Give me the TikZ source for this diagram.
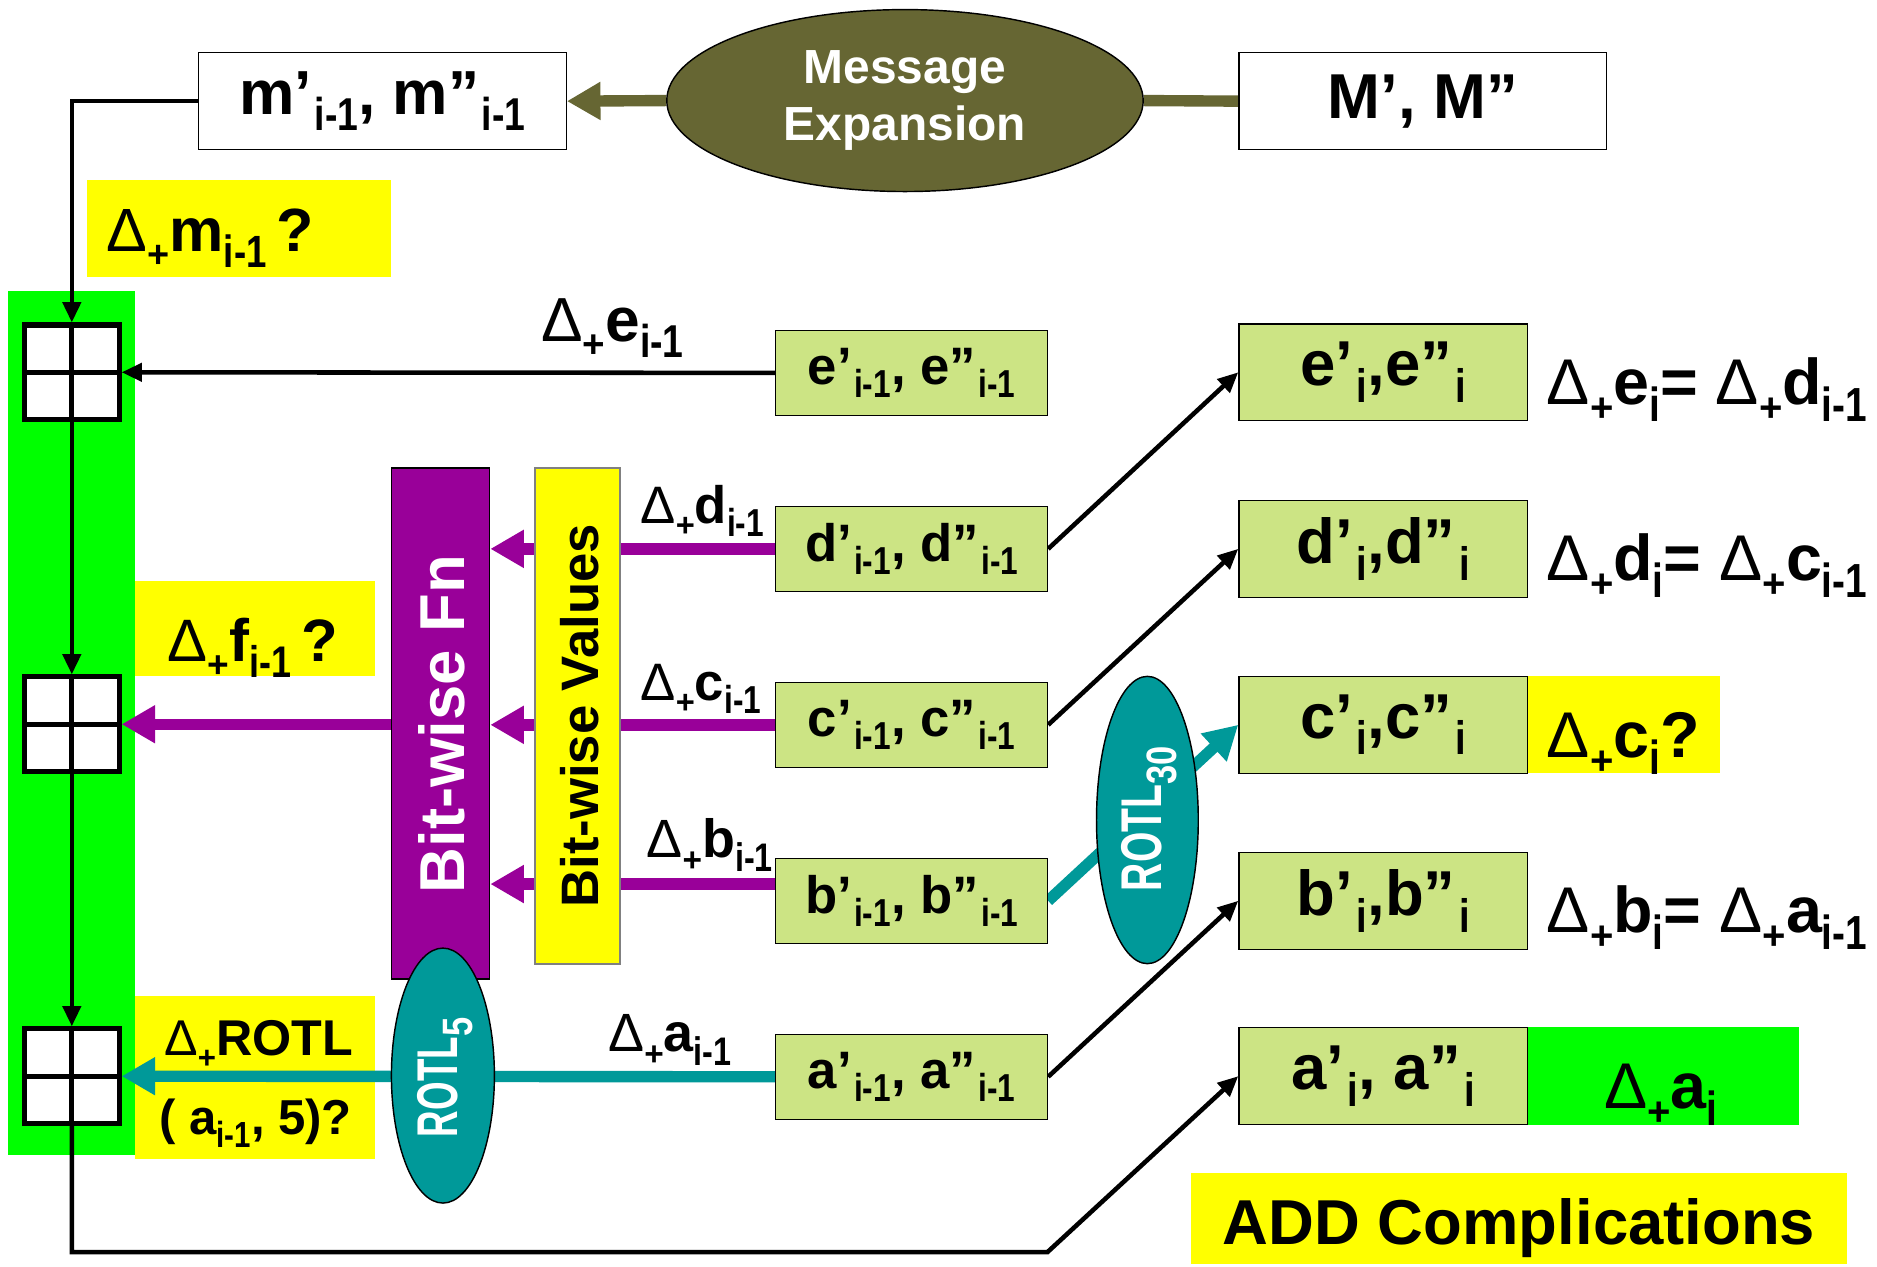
\documentclass[tikz,border=0pt]{standalone}
\usepackage{fontspec}
\setmainfont{Liberation Sans}
\usepackage{graphicx}
\usetikzlibrary{arrows.meta,shapes.geometric}
\pgfdeclarelayer{bg}
\pgfdeclarelayer{lines}
\pgfsetlayers{bg,lines,main}
\definecolor{olv}{RGB}{102,102,51}
\definecolor{grn}{RGB}{0,255,0}
\definecolor{lgr}{RGB}{204,228,132}
\definecolor{ylw}{RGB}{255,255,0}
\definecolor{prp}{RGB}{153,0,153}
\definecolor{tel}{RGB}{0,153,153}
\newcommand\sbx[1]{\raisebox{-0.26em}{\scalebox{0.6}[0.74]{#1}}}
\newcommand\dpl{{\mdseries Δ}\raisebox{-0.26em}{\scalebox{0.62}{+}}}
\newcommand\fsz[1]{\fontsize{#1}{#1}\selectfont\bfseries}
\tikzset{
  boxb/.style={draw, line width=1.2pt, rectangle, inner sep=0pt},
  lbox/.style={boxb, fill=lgr, minimum width=227pt, minimum height=71pt},
  rbox/.style={boxb, fill=lgr, minimum width=241pt, minimum height=81pt},
  wbox/.style={boxb, fill=white, minimum width=307pt, minimum height=81pt},
  ybg/.style={fill=ylw, inner sep=0pt, rectangle},
  adder/.style={rectangle, draw, line width=4.2pt, fill=white, minimum size=79pt, inner sep=0pt,
    path picture={\draw[line width=4.2pt] (path picture bounding box.north) -- (path picture bounding box.south)
      (path picture bounding box.west) -- (path picture bounding box.east);}},
  blk/.style={draw=black, line width=3.8pt},
  blkarr/.style={blk, -{Triangle[length=17pt,width=15pt]}},
  fatln/.style={line width=9.5pt},
  fatarr/.style={fatln, -{Triangle[length=28pt,width=30pt]}},
  lbl/.style={inner sep=0pt},
  bw/.style={inner sep=0pt, anchor=base west},
}
\begin{document}
\begin{tikzpicture}[x=1pt,y=-1pt]
\useasboundingbox (0,0) rectangle (1568,1058);
\begin{pgfonlayer}{bg}
\fill[white] (0,0) rectangle (1568,1058);
\node[ybg, fill=grn, minimum width=106pt, minimum height=722pt] (strip) at (60,604) {};
\node[ybg, minimum width=254pt, minimum height=81pt] (ym) at (200,190.5) {};
\node[ybg, minimum width=200pt, minimum height=80pt] (yf) at (213,525) {};
\node[ybg, minimum width=200pt, minimum height=136pt] (yrot) at (213,900) {};
\node[ybg, minimum width=161pt, minimum height=81pt] (yc) at (1356.5,605.5) {};
\node[ybg, fill=grn, minimum width=227pt, minimum height=82pt] (ga) at (1389.5,899) {};
\node[ybg, minimum width=548pt, minimum height=76pt] (add) at (1269,1018) {};
\end{pgfonlayer}

% texts of the coloured labels
\node[bw] (tm) at (89,210) {\fsz{51}\dpl m\sbx{i-1}\,?};
\node[bw] (tf) at (140,553) {\fsz{50}\dpl f\sbx{i-1}\,?};
\node[bw] (trot1) at (137,882) {\fsz{42}\dpl ROTL};
\node[bw] (trot2) at (133,948) {\fsz{41}( a\sbx{i-1}, 5)?};
\node[bw] (tc) at (1292,633) {\fsz{54}\dpl c\sbx{i}?};
\node[bw] (ta) at (1340,926) {\fsz{54}\dpl a\sbx{i}};
\node[lbl, anchor=base] (tadd) at (1269,1040) {\fsz{53}ADD Complications};

% top row
\node[wbox] (mb) at (319.5,84.5) {\raisebox{-4pt}{\fsz{52}m’\kern2pt\sbx{i-1}, m”\kern2pt\sbx{i-1}}};
\node[ellipse, draw, line width=1.2pt, fill=olv, minimum width=398pt, minimum height=152pt, inner sep=0pt,
  text=white, align=center, font={\fontsize{40}{47.5}\selectfont\bfseries}] (me) at (756,84) {\raisebox{-4pt}{Message}\\\raisebox{-4pt}{Expansion}};
\node[wbox] (Mb) at (1188.5,84.5) {\raisebox{-2pt}{\fsz{53}M’, M”}};

% bit-wise blocks
\node[boxb, fill=prp, minimum width=82pt, minimum height=427pt] (fn) at (368,604.5) {};
\node[lbl, rotate=90, text=white] (fntxt) at (369,605) {\fsz{53}Bit-wise Fn};
\node[boxb, draw=gray, line width=1.5pt, fill=ylw, minimum width=71pt, minimum height=414pt] (vals) at (482.5,598) {};
\node[lbl, rotate=90] (valtxt) at (484,598) {\fsz{44}Bit-wise Values};

% rotation ellipses
\node[ellipse, draw, line width=1.2pt, fill=tel, minimum width=86pt, minimum height=213pt, inner sep=0pt] (r5) at (370,898.5) {};
\node[lbl, rotate=90, text=white] (r5t) at (372,900) {\fsz{48}\scalebox{0.64}[1]{ROTL}\sbx{5}};
\node[ellipse, draw, line width=1.2pt, fill=tel, minimum width=85pt, minimum height=240pt, inner sep=0pt] (r30) at (958.5,685) {};
\node[lbl, rotate=90, text=white] (r30t) at (960,684) {\fsz{48}\scalebox{0.68}[1]{ROTL}\sbx{30}};

% previous-step registers
\node[lbox] (ep) at (761.5,311.5) {\raisebox{-3pt}{\fsz{44}e’\kern2pt\sbx{i-1}, e”\kern2pt\sbx{i-1}}};
\node[lbox] (dp) at (761.5,458.5) {\raisebox{-3pt}{\fsz{44}d’\kern2pt\sbx{i-1}, d”\kern2pt\sbx{i-1}}};
\node[lbox] (cp) at (761.5,605.5) {\raisebox{-3pt}{\fsz{44}c’\kern2pt\sbx{i-1}, c”\kern2pt\sbx{i-1}}};
\node[lbox] (bp) at (761.5,752.5) {\raisebox{-3pt}{\fsz{44}b’\kern2pt\sbx{i-1}, b”\kern2pt\sbx{i-1}}};
\node[lbox] (ap) at (761.5,899.5) {\raisebox{-3pt}{\fsz{44}a’\kern2pt\sbx{i-1}, a”\kern2pt\sbx{i-1}}};

% connector labels
\node[bw] (lep) at (452,285) {\fsz{52}\dpl e\sbx{i-1}};
\node[bw] (ldp) at (535,437) {\fsz{44}\dpl d\sbx{i-1}};
\node[bw] (lcp) at (535,585) {\fsz{44}\dpl c\sbx{i-1}};
\node[bw] (lbp) at (540,716) {\fsz{45}\dpl b\sbx{i-1}};
\node[bw] (lap) at (508,878) {\fsz{45}\dpl a\sbx{i-1}};

% new registers
\node[rbox] (ei) at (1155.5,311) {\raisebox{-4pt}{\fsz{53}e’\kern3pt\sbx{i},e”\kern3pt\sbx{i}}};
\node[rbox] (di) at (1155.5,458.5) {\raisebox{-4pt}{\fsz{53}d’\kern3pt\sbx{i},d”\kern3pt\sbx{i}}};
\node[rbox] (ci) at (1155.5,605.5) {\raisebox{-4pt}{\fsz{53}c’\kern3pt\sbx{i},c”\kern3pt\sbx{i}}};
\node[rbox] (bi) at (1155.5,752.5) {\raisebox{-4pt}{\fsz{53}b’\kern3pt\sbx{i},b”\kern3pt\sbx{i}}};
\node[rbox] (ai) at (1155.5,899) {\raisebox{-4pt}{\fsz{53}a’\kern3pt\sbx{i}, a”\kern3pt\sbx{i}}};

\node[bw] (le) at (1292,338) {\fsz{54}\dpl e\sbx{i}= \dpl d\sbx{i-1}};
\node[bw] (ld) at (1292,485) {\fsz{54}\dpl d\sbx{i}= \dpl c\sbx{i-1}};
\node[bw] (lb) at (1292,779) {\fsz{54}\dpl b\sbx{i}= \dpl a\sbx{i-1}};

% adders
\node[adder] (g1) at (60,311) {};
\node[adder] (g2) at (60,605) {};
\node[adder] (g3) at (60,899) {};

\coordinate (bl) at (875,1046);
\coordinate (bq) at ([yshift=14pt]bp.west);

\begin{pgfonlayer}{lines}
\draw[blkarr] (mb.west) -| (g1.north);
\draw[blkarr] (ep.west) -- (g1.east);
\draw[blkarr] (g1.south) -- (g2.north);
\draw[blkarr] (g2.south) -- (g3.north);
\draw[blkarr] (g3.south) |- (bl) -- (ai.west);
\draw[blkarr] (dp.east) -- (ei.west);
\draw[blkarr] (cp.east) -- (di.west);
\draw[blkarr] (ap.east) -- (bi.west);
\draw[fatarr, olv] (me.west) -- (mb.east);
\draw[fatln, olv] (Mb.west) -- (me.east);
\draw[fatarr, prp] (dp.west) -- (fn.east |- dp.west);
\draw[fatarr, prp] (cp.west) -- (fn.east |- cp.west);
\draw[fatarr, prp] (bq) -- (fn.east |- bq);
\draw[fatarr, prp] (fn.west |- g2) -- (g2.east);
\draw[fatarr, tel] (ap.west) -- (g3.east);
\draw[fatarr, tel] (bp.east) -- (ci.west);
\end{pgfonlayer}
\end{tikzpicture}
\end{document}
